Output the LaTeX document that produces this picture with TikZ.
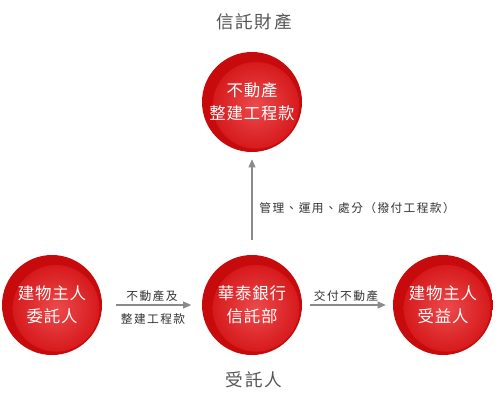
\documentclass[tikz,border=0pt]{standalone}
\usepackage{fontspec}
\newfontfamily\cjk{Noto Sans CJK TC}
\newfontfamily\cjkball[LetterSpace=5]{Noto Sans CJK TC}
\newfontfamily\cjkwide[LetterSpace=10]{Noto Sans CJK TC}
\newfontfamily\cjklabel[LetterSpace=12]{Noto Sans CJK TC}
\usetikzlibrary{arrows.meta,positioning}
\definecolor{balldark}{HTML}{C70A0C}
\definecolor{ballmid}{HTML}{D61A1C}
\definecolor{ballhi}{HTML}{EC4A4C}
\definecolor{labelgray}{HTML}{555555}
\definecolor{arrowgray}{HTML}{8A8A8A}

\begin{document}
\begin{tikzpicture}[x=0.03cm,y=-0.03cm,
  ball/.style={circle,minimum size=3cm,inner sep=0pt,text=white,align=center,
    font=\cjkball\fontsize{14}{19.5}\selectfont,
    path picture={
      \fill[balldark] (path picture bounding box.south west) rectangle (path picture bounding box.north east);
      \shade[inner color=ballhi,outer color=ballmid]
        ([xshift=0.12cm,yshift=-0.1cm]path picture bounding box.center) circle (1.3cm);
    }},
  caption/.style={font=\cjkwide\fontsize{15}{18}\selectfont,text=labelgray},
  flowlabel/.style={font=\cjklabel\fontsize{10}{12}\selectfont,text=black!80,inner sep=1pt},
  flow/.style={draw=arrowgray,line width=0.9pt,-{Triangle[length=7pt,width=6pt]}}]
\useasboundingbox[fill=white] (0,0) rectangle (500,406);

% circles
\node[ball] (asset) at (252,102) {不動產\\整建工程款};
\node[ball] (owner) at (52,305) {建物主人\\委託人};
\node[ball] (bank) at (252,305) {華泰銀行\\信託部};
\node[ball] (benef) at (443,305) {建物主人\\受益人};

% captions
\node[caption] (assettitle) at (254,22) {信託財產};
\node[caption] (banktitle) at (254,380) {受託人};

% arrows
\draw[flow,shorten <=12.75pt,shorten >=6pt] (bank) -- (asset);
\draw[flow,shorten <=12pt,shorten >=9pt] (owner.east) -- (bank.west);
\draw[flow,shorten <=7pt,shorten >=6pt] (bank.east) -- (benef.west);

% labels
\node[flowlabel,anchor=west] (managelabel) at (258,208) {管理、運用、處分（撥付工程款）};
\node[flowlabel] (transferlabel) at (152,296) {不動產及};
\node[flowlabel] (worklabel) at (153,319) {整建工程款};
\node[flowlabel] (deliverlabel) at (346,296) {交付不動產};
\end{tikzpicture}
\end{document}
